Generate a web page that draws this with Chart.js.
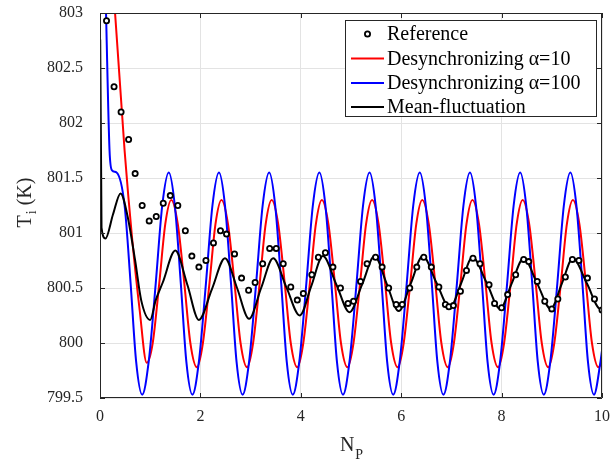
<!DOCTYPE html>
<html>
<head>
<meta charset="utf-8">
<script src="https://cdn.jsdelivr.net/npm/chart.js@4.4.1/dist/chart.umd.min.js"></script>
<style>
html,body{margin:0;padding:0;background:#fff;}
canvas{display:block;}
</style>
</head>
<body>
<canvas id="c" width="613" height="464"></canvas>
<script>
// ---------- data ----------
const xTickLabels = ['0','2','4','6','8','10'];
const yTickLabels = ['799.5','800','800.5','801','801.5','802','802.5','803'];

const legendLabels = ['Reference','Desynchronizing \u03B1=10','Desynchronizing \u03B1=100','Mean-fluctuation'];

const refX = [0.13,0.28,0.42,0.57,0.70,0.84,0.98,1.12,1.26,1.40,1.55,1.70,1.83,1.97,2.11,2.26,2.40,2.52,2.68,2.82,2.96,3.09,3.24,3.38,3.51,3.65,3.80,3.93,4.05,4.22,4.35,4.49,4.64,4.79,4.94,5.05,5.19,5.32,5.49,5.62,5.75,5.90,6.02,6.17,6.31,6.45,6.60,6.75,6.88,6.95,7.04,7.18,7.30,7.43,7.57,7.75,7.86,8.00,8.12,8.28,8.44,8.54,8.71,8.86,9.00,9.12,9.27,9.41,9.54,9.71,9.85,10.00];
const refY = [802.93,802.33,802.10,801.85,801.54,801.25,801.11,801.15,801.27,801.34,801.25,801.02,800.79,800.69,800.75,800.91,801.02,800.99,800.81,800.59,800.48,800.55,800.72,800.86,800.86,800.72,800.51,800.39,800.45,800.62,800.78,800.82,800.69,800.50,800.36,800.38,800.56,800.72,800.78,800.69,800.50,800.35,800.35,800.50,800.69,800.78,800.69,800.51,800.35,800.33,800.34,800.47,800.66,800.77,800.72,800.53,800.36,800.32,800.44,800.62,800.76,800.74,800.56,800.38,800.31,800.40,800.60,800.76,800.75,800.59,800.40,800.30];

const a10X = [0,0.30,0.49,0.64,0.79,0.93,
 1.05,1.18,1.30,1.42,1.55,1.68,1.80,1.93,
 2.05,2.18,2.30,2.42,2.55,2.68,2.80,2.93,
 3.05,3.18,3.30,3.42,3.55,3.68,3.80,3.93,
 4.05,4.18,4.30,4.42,4.55,4.68,4.80,4.93,
 5.05,5.18,5.30,5.42,5.55,5.68,5.80,5.93,
 6.05,6.18,6.30,6.42,6.55,6.68,6.80,6.93,
 7.05,7.18,7.30,7.42,7.55,7.68,7.80,7.93,
 8.05,8.18,8.30,8.42,8.55,8.68,8.80,8.93,
 9.05,9.18,9.30,9.42,9.55,9.68,9.80,9.93,
 10];
const a10Y = [805.5,803.0,801.75,800.95,800.30,799.82,
 800.00,800.54,801.08,801.30,801.08,800.54,800.00,799.78,
 800.00,800.54,801.08,801.30,801.08,800.54,800.00,799.78,
 800.00,800.54,801.08,801.30,801.08,800.54,800.00,799.78,
 800.00,800.54,801.08,801.30,801.08,800.54,800.00,799.78,
 800.00,800.54,801.08,801.30,801.08,800.54,800.00,799.78,
 800.00,800.54,801.08,801.30,801.08,800.54,800.00,799.78,
 800.00,800.54,801.08,801.30,801.08,800.54,800.00,799.78,
 800.00,800.54,801.08,801.30,801.08,800.54,800.00,799.78,
 800.00,800.54,801.08,801.30,801.08,800.54,800.00,799.78,
 799.82];

const a100X = [0,0.12,0.19,0.24,0.33,0.49,0.61,0.72,0.84,
 0.97,1.11,1.24,1.37,1.49,1.61,1.72,1.84,
 1.97,2.11,2.24,2.37,2.49,2.61,2.72,2.84,
 2.97,3.11,3.24,3.37,3.49,3.61,3.72,3.84,
 3.97,4.11,4.24,4.37,4.49,4.61,4.72,4.84,
 4.97,5.11,5.24,5.37,5.49,5.61,5.72,5.84,
 5.97,6.11,6.24,6.37,6.49,6.61,6.72,6.84,
 6.97,7.11,7.24,7.37,7.49,7.61,7.72,7.84,
 7.97,8.11,8.24,8.37,8.49,8.61,8.72,8.84,
 8.97,9.11,9.24,9.37,9.49,9.61,9.72,9.84,
 9.97,10];
const a100Y = [805.2,803.0,801.75,801.57,801.55,801.25,800.54,799.83,799.53,
 799.83,800.54,801.25,801.55,801.25,800.54,799.83,799.53,
 799.83,800.54,801.25,801.55,801.25,800.54,799.83,799.53,
 799.83,800.54,801.25,801.55,801.25,800.54,799.83,799.53,
 799.83,800.54,801.25,801.55,801.25,800.54,799.83,799.53,
 799.83,800.54,801.25,801.55,801.25,800.54,799.83,799.53,
 799.83,800.54,801.25,801.55,801.25,800.54,799.83,799.53,
 799.83,800.54,801.25,801.55,801.25,800.54,799.83,799.53,
 799.83,800.54,801.25,801.55,801.25,800.54,799.83,799.53,
 799.83,800.54,801.25,801.55,801.25,800.54,799.83,799.53,
 799.83,799.93];

const mfX = [0,0.004,0.03,0.11,0.26,0.41,0.55,0.70,0.82,1.00,1.11,1.25,1.50,1.74,1.97,2.23,2.49,2.73,2.97,3.21,3.45,3.71,3.98,4.21,4.44,4.71,4.97,5.22,5.47,5.71,5.95,6.19,6.43,6.70,6.97,7.20,7.42,7.70,7.97,8.20,8.44,8.71,8.98,9.20,9.42,9.70,9.97,10];
const mfY = [800.86,802.75,801.05,800.95,801.17,801.36,801.15,800.75,800.39,800.21,800.39,800.55,800.84,800.53,800.21,800.49,800.77,800.50,800.22,800.50,800.77,800.51,800.25,800.52,800.79,800.53,800.28,800.53,800.79,800.54,800.29,800.54,800.79,800.55,800.32,800.55,800.78,800.55,800.31,800.54,800.77,800.54,800.31,800.54,800.77,800.54,800.31,800.31];

const toXY = (xs, ys) => xs.map((x, i) => ({x: x, y: ys[i]}));

const FONT = "'Liberation Serif', 'Times New Roman', serif";
const AXIS_COLOR = '#262626';

// ---------- plugins ----------
const framePlugin = {
  id: 'frame',
  afterDatasetsDraw(chart) {
    const ctx = chart.ctx, a = chart.chartArea;
    const xs = chart.scales.x, ys = chart.scales.y;
    ctx.save();
    ctx.strokeStyle = AXIS_COLOR;
    ctx.lineWidth = 1;
    ctx.beginPath();
    ctx.rect(Math.round(a.left) + 0.5, Math.round(a.top) + 0.5,
             Math.round(a.right - a.left) - 1, Math.round(a.bottom - a.top) - 1);
    ctx.stroke();
    const tl = 5;
    ctx.beginPath();
    xs.ticks.forEach(t => {
      const px = Math.round(xs.getPixelForValue(t.value)) + 0.5;
      ctx.moveTo(px, a.bottom); ctx.lineTo(px, a.bottom - tl);
      ctx.moveTo(px, a.top); ctx.lineTo(px, a.top + tl);
    });
    ys.ticks.forEach(t => {
      const py = Math.round(ys.getPixelForValue(t.value)) + 0.5;
      ctx.moveTo(a.left, py); ctx.lineTo(a.left + tl, py);
      ctx.moveTo(a.right, py); ctx.lineTo(a.right - tl, py);
    });
    ctx.stroke();
    ctx.restore();
  },
  afterDraw(chart) {
    const ctx = chart.ctx, a = chart.chartArea;
    ctx.save();
    ctx.fillStyle = AXIS_COLOR;
    // x title N_P
    ctx.textBaseline = 'alphabetic';
    ctx.textAlign = 'left';
    ctx.font = '20px ' + FONT;
    const wN = ctx.measureText('N').width;
    ctx.font = '14px ' + FONT;
    const wP = ctx.measureText('P').width;
    let cx = (a.left + a.right) / 2 - (wN + wP) / 2;
    ctx.font = '20px ' + FONT;
    ctx.fillText('N', cx, 451);
    ctx.font = '14px ' + FONT;
    ctx.fillText('P', cx + wN + 1, 459);
    // y title T_i (K)
    ctx.translate(24, 203);
    ctx.rotate(-Math.PI / 2);
    ctx.font = '20px ' + FONT;
    const wT = ctx.measureText('T').width;
    const wK = ctx.measureText(' (K)').width;
    ctx.font = '14px ' + FONT;
    const wi = ctx.measureText('i').width;
    let sx = -(wT + wi + wK) / 2;
    ctx.font = '20px ' + FONT;
    ctx.fillText('T', sx, 7);
    ctx.font = '14px ' + FONT;
    ctx.fillText('i', sx + wT + 1, 12);
    ctx.font = '20px ' + FONT;
    ctx.fillText(' (K)', sx + wT + wi + 1, 7);
    ctx.restore();

    // legend
    const box = {left: 345, top: 20, right: 597, bottom: 117};
    ctx.save();
    ctx.fillStyle = '#ffffff';
    ctx.fillRect(box.left, box.top, box.right - box.left, box.bottom - box.top);
    ctx.strokeStyle = AXIS_COLOR;
    ctx.lineWidth = 1;
    ctx.strokeRect(box.left + 0.5, box.top + 0.5, box.right - box.left - 1, box.bottom - box.top - 1);
    const rows = [34, 58.5, 83, 107];
    const x1 = 351, x2 = 384, tx = 387;
    ctx.font = '20px ' + FONT;
    ctx.textBaseline = 'middle';
    ctx.textAlign = 'left';
    chart.data.datasets.forEach((ds, i) => {
      const y = rows[i];
      if (ds.showLine === false) {
        ctx.beginPath();
        ctx.arc((x1 + x2) / 2, y, ds.pointRadius, 0, Math.PI * 2);
        ctx.fillStyle = ds.pointBackgroundColor;
        ctx.fill();
        ctx.lineWidth = ds.pointBorderWidth;
        ctx.strokeStyle = ds.pointBorderColor;
        ctx.stroke();
      } else {
        ctx.beginPath();
        ctx.moveTo(x1, y); ctx.lineTo(x2, y);
        ctx.lineWidth = ds.borderWidth;
        ctx.strokeStyle = ds.borderColor;
        ctx.stroke();
      }
      ctx.fillStyle = '#000000';
      ctx.fillText(ds.label, tx, y + 1);
    });
    ctx.restore();
  }
};

const noPad = (s) => { s.paddingTop = 0; s.paddingBottom = 0; s.paddingLeft = 0; s.paddingRight = 0; };

// ---------- chart ----------
new Chart(document.getElementById('c'), {
  type: 'line',
  data: {
    datasets: [
      {
        label: legendLabels[0],
        data: toXY(refX, refY),
        showLine: false,
        pointRadius: 2.6,
        pointBorderWidth: 1.8,
        pointBorderColor: '#000000',
        pointBackgroundColor: '#ffffff',
        order: 0
      },
      {
        label: legendLabels[1],
        data: toXY(a10X, a10Y),
        borderColor: '#ff0000',
        borderWidth: 2,
        pointRadius: 0,
        cubicInterpolationMode: 'monotone',
        order: 3
      },
      {
        label: legendLabels[2],
        data: toXY(a100X, a100Y),
        borderColor: '#0000ff',
        borderWidth: 2,
        pointRadius: 0,
        cubicInterpolationMode: 'monotone',
        order: 2
      },
      {
        label: legendLabels[3],
        data: toXY(mfX, mfY),
        borderColor: '#000000',
        borderWidth: 2,
        pointRadius: 0,
        cubicInterpolationMode: 'monotone',
        order: 1
      }
    ]
  },
  options: {
    responsive: false,
    devicePixelRatio: 1,
    animation: false,
    events: [],
    layout: {padding: {top: 13, right: 11, left: 0, bottom: 0}},
    plugins: {legend: {display: false}, tooltip: {enabled: false}},
    scales: {
      x: {
        type: 'linear',
        min: 0, max: 10,
        afterFit(s) { s.height = 66; noPad(s); },
        ticks: {
          stepSize: 2,
          padding: 9,
          color: AXIS_COLOR,
          font: {family: FONT, size: 16},
          maxRotation: 0,
          callback: (v, i) => xTickLabels[i]
        },
        grid: {color: '#e3e3e3', lineWidth: 1, drawTicks: false},
        border: {display: false}
      },
      y: {
        type: 'linear',
        min: 799.5, max: 803,
        afterFit(s) { s.width = 100; noPad(s); },
        ticks: {
          stepSize: 0.5,
          padding: 17,
          color: AXIS_COLOR,
          font: {family: FONT, size: 16},
          callback: (v, i) => yTickLabels[i]
        },
        grid: {color: '#e3e3e3', lineWidth: 1, drawTicks: false},
        border: {display: false}
      }
    }
  },
  plugins: [framePlugin]
});
</script>
</body>
</html>
